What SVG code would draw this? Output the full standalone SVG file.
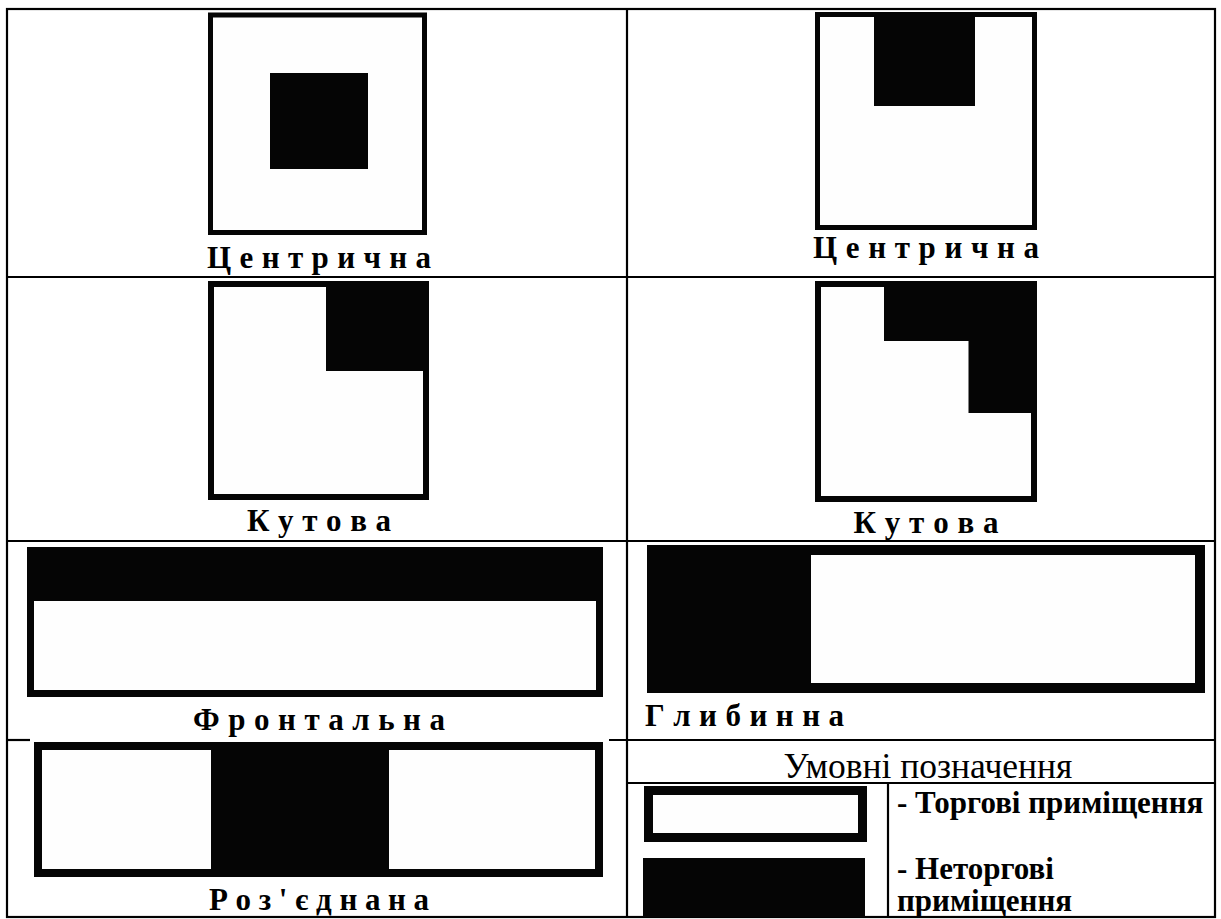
<svg xmlns="http://www.w3.org/2000/svg" width="1221" height="919" viewBox="0 0 1221 919">
<style>
.ln{stroke:#000;stroke-width:2.2;fill:none}
.frame{fill:#fefefe;stroke:#050505}
.blk{fill:#050505}
.lbl{font-family:"Liberation Serif","Times New Roman",serif;font-weight:bold;font-size:31px;fill:#000}
.ttl{font-family:"Liberation Serif","Times New Roman",serif;font-size:35.5px;fill:#000}
.leg{font-family:"Liberation Serif","Times New Roman",serif;font-weight:bold;font-size:31px;fill:#000}
</style>
<rect width="1221" height="919" fill="#fff"/>
<g id="table-grid">
<rect class="ln" x="7" y="9" width="1208" height="908"/>
<line class="ln" x1="627" y1="9" x2="627" y2="917"/>
<line class="ln" x1="7" y1="277" x2="1215" y2="277"/>
<line class="ln" x1="7" y1="541" x2="1215" y2="541"/>
<line class="ln" x1="7" y1="740" x2="30" y2="740"/>
<line class="ln" x1="609" y1="740" x2="1215" y2="740"/>
<line class="ln" x1="627" y1="783" x2="1215" y2="783"/>
<line class="ln" x1="888" y1="783" x2="888" y2="917"/>
</g>
<g id="centric-1">
<rect class="frame" x="210.5" y="15" width="214" height="217.5" stroke-width="5"/>
<rect class="blk" x="270" y="73" width="98" height="96"/>
<text class="lbl" x="319" y="268" text-anchor="middle" textLength="224" lengthAdjust="spacing">Ц е н т р и ч н а</text>
</g>
<g id="centric-2">
<rect class="frame" x="817.5" y="14.5" width="217" height="213" stroke-width="5"/>
<rect class="blk" x="874" y="12" width="101" height="94"/>
<text class="lbl" x="926" y="258" text-anchor="middle" textLength="226" lengthAdjust="spacing">Ц е н т р и ч н а</text>
</g>
<g id="corner-1">
<rect class="frame" x="211" y="284" width="215" height="213" stroke-width="6"/>
<rect class="blk" x="326" y="281" width="103" height="90"/>
<text class="lbl" x="319" y="531" text-anchor="middle" textLength="144" lengthAdjust="spacing">К у т о в а</text>
</g>
<g id="corner-2">
<rect class="frame" x="818" y="284" width="216" height="215" stroke-width="6"/>
<polygon class="blk" points="884,281 1037,281 1037,413 968.5,413 968.5,341 884,341"/>
<text class="lbl" x="926" y="533" text-anchor="middle" textLength="145" lengthAdjust="spacing">К у т о в а</text>
</g>
<g id="frontal">
<rect class="frame" x="30.5" y="550.5" width="569" height="143" stroke-width="7"/>
<rect class="blk" x="27" y="547" width="576" height="54"/>
<text class="lbl" x="319" y="730" text-anchor="middle" textLength="252" lengthAdjust="spacing">Ф р о н т а л ь н а</text>
</g>
<g id="depth">
<rect class="frame" x="652" y="550" width="548" height="138" stroke-width="10"/>
<rect class="blk" x="647" y="545" width="164" height="148"/>
<text class="lbl" x="645" y="726" textLength="199" lengthAdjust="spacing">Г л и б и н н а</text>
</g>
<g id="separated">
<rect class="frame" x="38" y="746" width="561" height="127" stroke-width="8"/>
<rect class="blk" x="211" y="742" width="178" height="135"/>
<text class="lbl" x="319" y="910" text-anchor="middle" textLength="220" lengthAdjust="spacing">Р о з ' є д н а н а</text>
</g>
<g id="legend">
<text class="ttl" x="928" y="778" text-anchor="middle">Умовні позначення</text>
<rect class="frame" x="648.5" y="790.5" width="214" height="47" stroke-width="9"/>
<rect class="blk" x="643" y="858" width="222" height="59"/>
<text class="leg" x="897" y="813">- Торгові приміщення</text>
<text class="leg" x="897" y="879">- Неторгові</text>
<text class="leg" x="897" y="911">приміщення</text>
</g>
</svg>
